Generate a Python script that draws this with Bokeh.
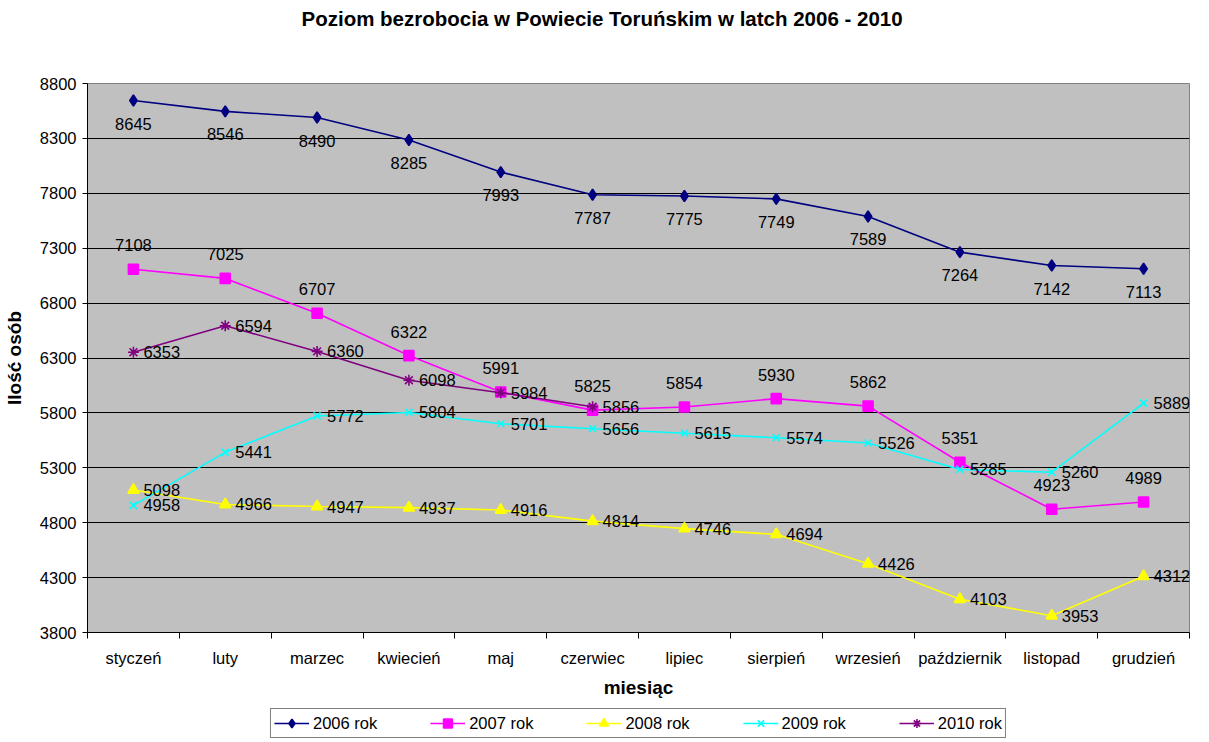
from bokeh.plotting import figure
from bokeh.layouts import column
from bokeh.models import (Range1d, FixedTicker, Legend, LegendItem, ColumnDataSource,
                          LabelSet, Title)
from bokeh.core.properties import value
from bokeh.embed import file_html
from bokeh.resources import INLINE

months = ["styczeń", "luty", "marzec", "kwiecień", "maj", "czerwiec", "lipiec",
          "sierpień", "wrzesień", "październik", "listopad", "grudzień"]
y2006 = [8645, 8546, 8490, 8285, 7993, 7787, 7775, 7749, 7589, 7264, 7142, 7113]
y2007 = [7108, 7025, 6707, 6322, 5991, 5825, 5854, 5930, 5862, 5351, 4923, 4989]
y2008 = [5098, 4966, 4947, 4937, 4916, 4814, 4746, 4694, 4426, 4103, 3953, 4312]
y2009 = [4958, 5441, 5772, 5804, 5701, 5656, 5615, 5574, 5526, 5285, 5260, 5889]
y2010 = [6353, 6594, 6360, 6098, 5984, 5856]
series_names = ["2006 rok", "2007 rok", "2008 rok", "2009 rok", "2010 rok"]
y_ticks = [3800, 4300, 4800, 5300, 5800, 6300, 6800, 7300, 7800, 8300, 8800]
title_text = "Poziom bezrobocia w Powiecie Toruńskim w latch 2006 - 2010"

FONT = "Liberation Sans"
W = 1193
BL, BR = 78, 4


def blank(fig):
    fig.outline_line_color = None
    fig.xgrid.grid_line_color = None
    fig.ygrid.grid_line_color = None


# ---- title strip ----
pt = figure(width=W, height=40, output_backend="svg", toolbar_location=None,
            x_range=Range1d(0, 1), y_range=Range1d(0, 1),
            x_axis_type=None, y_axis_type=None, min_border_left=BL,
            min_border_right=BR, min_border_top=0, min_border_bottom=0,
            border_fill_color="white", background_fill_color="white")
blank(pt)
pt.title = Title(text=title_text, align="left", offset=214, standoff=8,
                 text_font=FONT, text_font_size="20.5px", text_font_style="bold",
                 text_color="black")

# ---- main chart ----
p = figure(width=W, height=660, output_backend="svg", toolbar_location=None,
           x_range=Range1d(-0.5, 11.5), y_range=Range1d(3800, 8800),
           min_border_left=BL, min_border_right=BR, min_border_top=43,
           min_border_bottom=66, background_fill_color="#C0C0C0",
           border_fill_color="white")
p.outline_line_color = "#808080"

p.xaxis.ticker = FixedTicker(ticks=list(range(12)),
                             minor_ticks=[i - 0.5 for i in range(13)])
p.xaxis.major_label_overrides = {i: m for i, m in enumerate(months)}
p.xaxis.major_tick_out = 0
p.xaxis.major_tick_in = 0
p.xaxis.minor_tick_out = 6
p.xaxis.minor_tick_in = 0
p.xaxis.major_label_standoff = 10
p.xaxis.axis_label = "miesiąc"
p.xaxis.axis_label_standoff = 7

p.yaxis.ticker = FixedTicker(ticks=y_ticks)
p.yaxis.major_tick_out = 5
p.yaxis.major_tick_in = 0
p.yaxis.minor_tick_line_color = None
p.yaxis.major_label_standoff = 6
p.yaxis.axis_label = "Ilość osób"
p.yaxis.axis_label_standoff = 12

for ax in (p.xaxis, p.yaxis):
    ax.axis_line_color = "black"
    ax.major_tick_line_color = "black"
    ax.major_label_text_font = FONT
    ax.major_label_text_font_size = "16.5px"
    ax.major_label_text_color = "black"
    ax.axis_label_text_font = FONT
    ax.axis_label_text_font_size = "19px"
    ax.axis_label_text_font_style = "bold"
    ax.axis_label_text_color = "black"
p.xaxis.minor_tick_line_color = "black"

p.xgrid.grid_line_color = None
p.ygrid.grid_line_color = "black"
p.ygrid.ticker = FixedTicker(ticks=y_ticks)

colors = ["#000080", "#FF00FF", "#FFFF00", "#00FFFF", "#800080"]
markers = ["diamond", "square", "triangle", "x", "asterisk"]
sizes = [11, 10, 11, 10, 11]
all_y = [y2006, y2007, y2008, y2009, y2010]
# label placement: (x_offset, y_offset, align)
label_pos = [(0, -23, "center"), (0, 24, "center"), (10, 0, "left"),
             (10, 0, "left"), (10, 0, "left")]

# ---- legend strip ----
p2 = figure(width=W, height=38, output_backend="svg", toolbar_location=None,
            x_range=Range1d(100, 101), y_range=Range1d(0, 1),
            x_axis_type=None, y_axis_type=None,
            min_border_left=BL, min_border_right=BR,
            min_border_top=0, min_border_bottom=0, border_fill_color="white",
            background_fill_color="white")
blank(p2)

items = []
for name, ys, c, m, s, (xo, yo, al) in zip(series_names, all_y, colors, markers,
                                           sizes, label_pos):
    src = ColumnDataSource(dict(x=list(range(len(ys))), y=ys,
                                t=[str(v) for v in ys]))
    p.line("x", "y", source=src, line_color=c, line_width=1.6)
    p.scatter("x", "y", source=src, marker=m, size=s, fill_color=c,
              line_color=c, line_width=1.6)
    labels = LabelSet(x="x", y="y", text="t", source=src, x_offset=xo, y_offset=yo,
                      text_align=al, text_baseline="middle", text_font=value(FONT),
                      text_font_size="16.5px", text_color="black")
    p.add_layout(labels)
    r1 = p2.line("x", "y", source=src, line_color=c, line_width=1.6)
    r2 = p2.scatter("x", "y", source=src, marker=m, size=s, fill_color=c,
                    line_color=c, line_width=1.6)
    items.append(LegendItem(label=name, renderers=[r1, r2]))

legend = Legend(items=items, orientation="horizontal", location="bottom_center",
                border_line_color="black", border_line_width=1,
                background_fill_color="white",
                label_text_font=FONT, label_text_font_size="16.5px",
                label_text_color="black", glyph_width=35, glyph_height=22,
                label_standoff=4, spacing=53, padding=3, margin=0,
                label_height=20)
p2.add_layout(legend)

layout = column(pt, p, p2, spacing=0)
open("out.html", "w").write(file_html(layout, INLINE))
